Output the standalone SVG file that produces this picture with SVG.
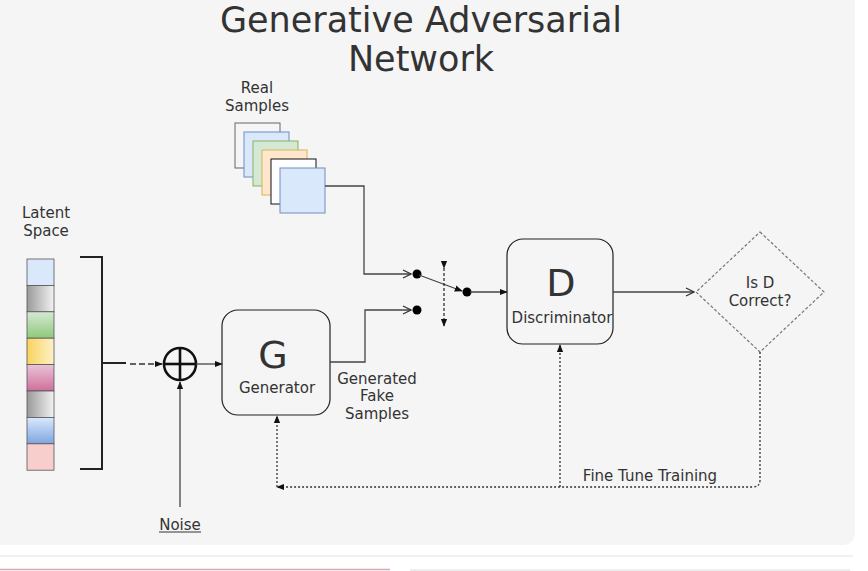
<svg xmlns="http://www.w3.org/2000/svg" width="868" height="571" viewBox="0 0 868 571">
<defs>
<style>
text{font-family:"DejaVu Sans",Verdana,sans-serif;fill:#333;text-anchor:middle}
.lbl{font-size:15px}
.big{font-size:38px}
.title{font-size:35px}
.box{fill:none;stroke:#222;stroke-width:1.2}
.ln{fill:none;stroke:#444;stroke-width:1.3}
.dot{fill:none;stroke:#333;stroke-width:1.3;stroke-dasharray:2 2}
.cell{stroke:#555;stroke-width:0.8}
</style>
<marker id="af" viewBox="0 0 10 10" refX="9" refY="5" markerWidth="8" markerHeight="8" orient="auto" markerUnits="userSpaceOnUse"><path d="M0,1 L10,5 L0,9 Z" fill="#111"/></marker>
<marker id="ao" viewBox="0 0 10 10" refX="9" refY="5" markerWidth="10" markerHeight="10" orient="auto" markerUnits="userSpaceOnUse"><path d="M1,1 L9,5 L1,9" fill="none" stroke="#333" stroke-width="1.3"/></marker>
<linearGradient id="gGray" x1="0" x2="1"><stop offset="0" stop-color="#9a9a9a"/><stop offset="1" stop-color="#f2f2f2"/></linearGradient>
<linearGradient id="gGreen" x1="0" x2="0" y1="0" y2="1"><stop offset="0" stop-color="#d5e8d4"/><stop offset="1" stop-color="#8ec97a"/></linearGradient>
<linearGradient id="gYel" x1="0" x2="1"><stop offset="0" stop-color="#f9d35e"/><stop offset="1" stop-color="#fdf0c8"/></linearGradient>
<linearGradient id="gPink" x1="0" x2="0" y1="0" y2="1"><stop offset="0" stop-color="#e9c3d6"/><stop offset="1" stop-color="#cf6f9b"/></linearGradient>
<linearGradient id="gBlue" x1="0" x2="0" y1="0" y2="1"><stop offset="0" stop-color="#dae8fc"/><stop offset="1" stop-color="#7ea6e0"/></linearGradient>
</defs>
<rect x="0" y="0" width="868" height="571" fill="#ffffff"/>
<path d="M0,0 H855 V532 Q855,545 842,545 H0 Z" fill="#f5f5f5"/>
<line x1="0" y1="556" x2="853" y2="556" stroke="#e2e2e2" stroke-width="1"/>
<line x1="0" y1="569.5" x2="390" y2="569.5" stroke="#d9a9b3" stroke-width="1.5"/>
<line x1="410" y1="570" x2="850" y2="570" stroke="#eeeeee" stroke-width="2"/>

<g id="title">
<text class="title" x="421" y="32">Generative Adversarial</text>
<text class="title" x="421" y="71">Network</text>
</g>

<g id="latent-space">
<text class="lbl" x="46" y="218">Latent</text>
<text class="lbl" x="46" y="236">Space</text>
<rect class="cell" x="27" y="259" width="27" height="26.4" fill="#dae8fc"/>
<rect class="cell" x="27" y="285.4" width="27" height="26.4" fill="url(#gGray)"/>
<rect class="cell" x="27" y="311.8" width="27" height="26.4" fill="url(#gGreen)"/>
<rect class="cell" x="27" y="338.2" width="27" height="26.4" fill="url(#gYel)"/>
<rect class="cell" x="27" y="364.6" width="27" height="26.4" fill="url(#gPink)"/>
<rect class="cell" x="27" y="391" width="27" height="26.4" fill="url(#gGray)"/>
<rect class="cell" x="27" y="417.4" width="27" height="26.4" fill="url(#gBlue)"/>
<rect class="cell" x="27" y="443.8" width="27" height="26.4" fill="#f8cecc"/>
</g>

<g id="bracket">
<path d="M80,257 H102 V469 H80" fill="none" stroke="#222" stroke-width="2"/>
</g>

<g id="sum">
<circle cx="180" cy="364" r="16" fill="none" stroke="#111" stroke-width="2.6"/>
<line x1="164" y1="364" x2="196" y2="364" stroke="#111" stroke-width="2.6"/>
<line x1="180" y1="348" x2="180" y2="380" stroke="#111" stroke-width="2.6"/>
</g>

<g id="noise">
<text class="lbl" x="180" y="530">Noise</text>
<line x1="159" y1="532" x2="201" y2="532" stroke="#333" stroke-width="1"/>
</g>

<g id="real-samples">
<text class="lbl" x="257" y="93">Real</text>
<text class="lbl" x="257" y="111">Samples</text>
<rect x="235" y="123" width="45" height="45" fill="#f5f5f5" stroke="#666"/>
<rect x="244" y="132" width="45" height="45" fill="#dae8fc" stroke="#6c8ebf"/>
<rect x="253" y="141" width="45" height="45" fill="#d5e8d4" stroke="#82b366"/>
<rect x="262" y="150" width="45" height="45" fill="#ffe6cc" stroke="#d6b656"/>
<rect x="271" y="159" width="45" height="45" fill="#ffffff" stroke="#111"/>
<rect x="280" y="168" width="45" height="45" fill="#dae8fc" stroke="#6c8ebf"/>
</g>

<g id="generator">
<rect class="box" x="222" y="310" width="108" height="105" rx="16"/>
<text class="big" x="273" y="368">G</text>
<text class="lbl" x="277" y="393">Generator</text>
</g>

<g id="fake-label">
<text class="lbl" x="377" y="384">Generated</text>
<text class="lbl" x="377" y="401">Fake</text>
<text class="lbl" x="377" y="419">Samples</text>
</g>

<g id="switch">
<circle cx="417" cy="274" r="4.5" fill="#000"/>
<circle cx="417" cy="310" r="4.5" fill="#000"/>
<circle cx="467" cy="292" r="4.5" fill="#000"/>
</g>

<g id="discriminator">
<rect class="box" x="507" y="239" width="106" height="105" rx="16"/>
<text class="big" x="561" y="296">D</text>
<text class="lbl" x="562" y="323">Discriminator</text>
</g>

<g id="decision">
<path d="M760,232 L824,292 L760,352 L696,292 Z" fill="none" stroke="#777" stroke-width="1.2" stroke-dasharray="3 2" stroke-linejoin="round"/>
<text class="lbl" x="760" y="288">Is D</text>
<text class="lbl" x="760" y="306">Correct?</text>
</g>

<g id="fine-tune-label">
<text class="lbl" x="650" y="481">Fine Tune Training</text>
</g>

<g id="connectors">
<line x1="102" y1="363" x2="126" y2="363" stroke="#222" stroke-width="2"/>
<line x1="130" y1="364" x2="162" y2="364" stroke="#333" stroke-width="1.3" stroke-dasharray="6 3" marker-end="url(#af)"/>
<line class="ln" x1="196" y1="364" x2="222" y2="364" marker-end="url(#af)"/>
<line class="ln" x1="180" y1="507" x2="180" y2="382" marker-end="url(#af)"/>
<path class="ln" d="M330,362 H365 V310 H411" marker-end="url(#ao)"/>
<path class="ln" d="M325,186 H364 V274 H411" marker-end="url(#ao)"/>
<line class="ln" x1="419" y1="275" x2="462" y2="291" marker-end="url(#af)"/>
<line class="ln" x1="470" y1="292" x2="507" y2="292" marker-end="url(#af)"/>
<line x1="444" y1="268" x2="444" y2="326" stroke="#222" stroke-width="1.2" stroke-dasharray="3 2" marker-start="url(#af)" marker-end="url(#af)"/>
<line class="ln" x1="613" y1="292" x2="694" y2="292" marker-end="url(#ao)"/>
<path class="dot" d="M760,352 V480 Q760,487 753,487 H277" marker-end="url(#af)"/>
<line class="dot" x1="277" y1="487" x2="277" y2="416" marker-end="url(#af)"/>
<line class="dot" x1="560" y1="487" x2="560" y2="345" marker-end="url(#af)"/>
</g>
</svg>
